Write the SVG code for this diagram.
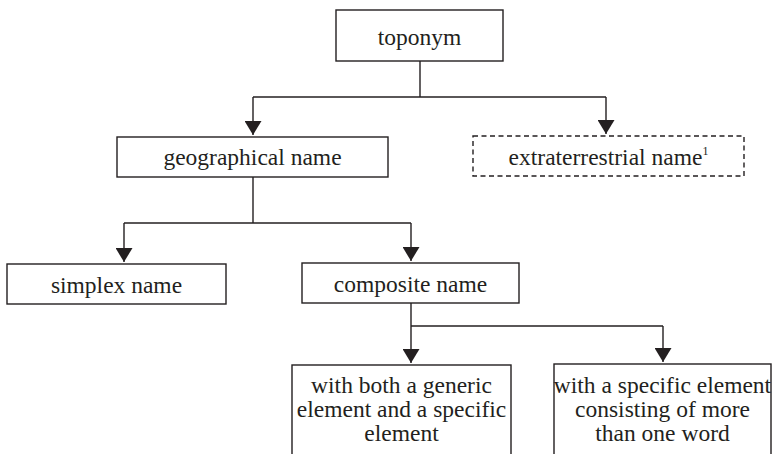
<svg xmlns="http://www.w3.org/2000/svg" width="776" height="454" viewBox="0 0 776 454">
<style>
.box{fill:#fff;stroke:#231f20;stroke-width:1.4}
.dash{stroke-dasharray:5,3.5}
.t{font-family:"Liberation Serif","Times New Roman",serif;font-size:23.5px;fill:#231f20;text-anchor:middle}
.c{fill:none;stroke:#231f20;stroke-width:1.4}
</style>
<defs>
<marker id="ah" markerWidth="17" markerHeight="14" refX="8.5" refY="14" orient="0" markerUnits="userSpaceOnUse" viewBox="0 0 17 14">
<path d="M0,0 L17,0 L8.5,14 Z" fill="#231f20"/>
</marker>
</defs>
<rect width="776" height="454" fill="#fff"/>
<g id="connectors">
<path class="c" d="M420,61 V97"/>
<path class="c" d="M253,97 H606"/>
<path class="c" d="M253,97 V135" marker-end="url(#ah)"/>
<path class="c" d="M606,97 V134" marker-end="url(#ah)"/>
<path class="c" d="M253,177 V223"/>
<path class="c" d="M124,223 H411"/>
<path class="c" d="M124,223 V262" marker-end="url(#ah)"/>
<path class="c" d="M411,223 V261" marker-end="url(#ah)"/>
<path class="c" d="M411,303 V363" marker-end="url(#ah)"/>
<path class="c" d="M411,326 H663"/>
<path class="c" d="M663,326 V362" marker-end="url(#ah)"/>
</g>
<g id="toponym">
<rect class="box" x="336" y="10" width="167" height="51"/>
<text class="t" x="419.5" y="45">toponym</text>
</g>
<g id="geographical">
<rect class="box" x="117" y="137" width="271" height="40"/>
<text class="t" x="252.5" y="165">geographical name</text>
</g>
<g id="extraterrestrial">
<rect class="box dash" x="473" y="136" width="271" height="40"/>
<text class="t" x="608.5" y="165">extraterrestrial name<tspan font-size="12" dy="-10">1</tspan></text>
</g>
<g id="simplex">
<rect class="box" x="7" y="264" width="219" height="40"/>
<text class="t" x="116.5" y="293">simplex name</text>
</g>
<g id="composite">
<rect class="box" x="302" y="263" width="217" height="40"/>
<text class="t" x="410.5" y="292">composite name</text>
</g>
<g id="generic-specific">
<rect class="box" x="292" y="365" width="219" height="100"/>
<text class="t" x="401.5" y="393">with both a generic</text>
<text class="t" x="401.5" y="417">element and a specific</text>
<text class="t" x="401.5" y="441">element</text>
</g>
<g id="multiword">
<rect class="box" x="554" y="364" width="217" height="100"/>
<text class="t" x="662.5" y="393">with a specific element</text>
<text class="t" x="662.5" y="417">consisting of more</text>
<text class="t" x="662.5" y="441">than one word</text>
</g>
</svg>
